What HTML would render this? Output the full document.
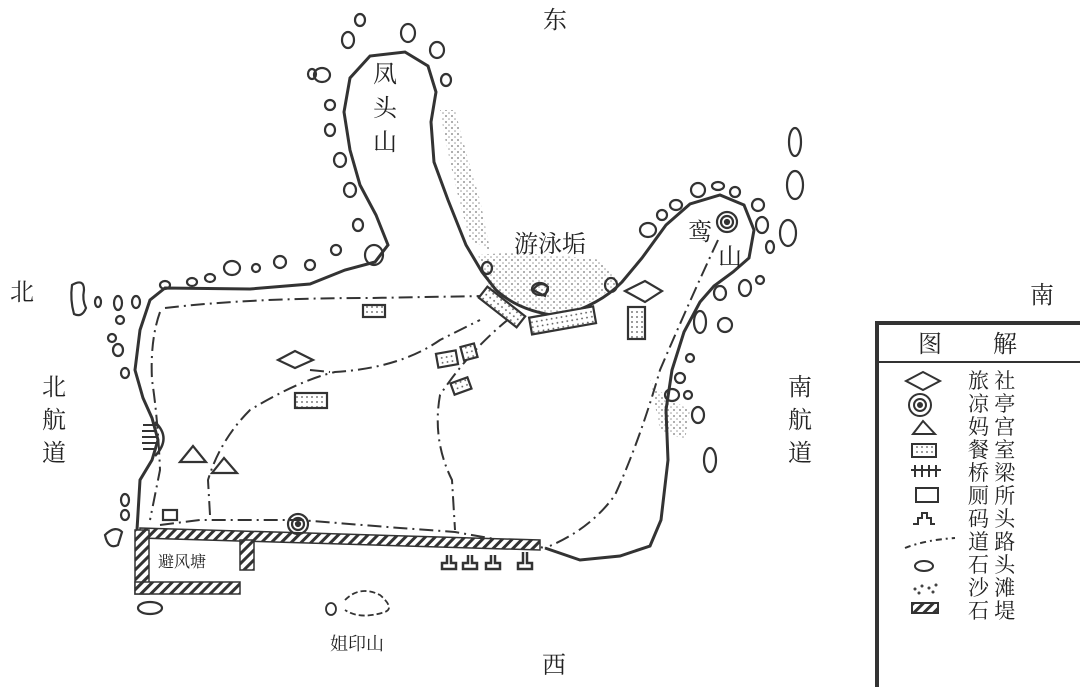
<!DOCTYPE html>
<html><head><meta charset="utf-8"><style>
html,body{margin:0;padding:0;background:#fff;}
svg{display:block}
text{font-family:"Liberation Serif","Noto Serif CJK SC","Noto Sans CJK SC",serif;fill:#222}
</style></head><body>
<svg width="1080" height="687" viewBox="0 0 1080 687" xmlns="http://www.w3.org/2000/svg">
<defs>
<pattern id="h" width="7" height="7" patternUnits="userSpaceOnUse" patternTransform="rotate(45)">
<rect width="7" height="7" fill="#fff"/><rect width="3" height="7" fill="#333"/></pattern>
<pattern id="d" width="5" height="5" patternUnits="userSpaceOnUse">
<rect width="5" height="5" fill="#fff"/><circle cx="2" cy="2" r="0.9" fill="#555"/></pattern>
<pattern id="s" width="6" height="6" patternUnits="userSpaceOnUse">
<circle cx="2" cy="2" r="0.9" fill="#777"/><circle cx="5" cy="5" r="0.8" fill="#999"/></pattern>
</defs>
<g fill="none" stroke="#333">
<!-- sand areas -->
<path d="M478,255 Q520,250 600,260 L620,282 Q600,300 560,315 Q520,312 490,288 Z" fill="url(#s)" stroke="none"/>
<path d="M440,110 Q450,170 470,240 L490,250 L480,200 Q465,150 455,110 Z" fill="url(#s)" stroke="none"/>
<path d="M650,380 Q660,395 690,410 L685,440 L660,430 Z" fill="url(#s)" stroke="none"/>
<!-- coastline -->
<path stroke-width="3" d="M137,530 L140,480 L152,460 L158,440 L152,418 L143,398 L135,370 L140,330 L150,300 L165,288 L250,289 L310,284 L345,270 L375,262 L388,245 L376,215 L360,185 L350,150 L344,112 L350,78 L370,56 L405,52 L428,66 L436,92 L431,122 L434,162 L448,200 L466,245 L482,272 L496,290 Q520,312 560,316 Q600,305 622,282 L642,258 L666,225 L690,204 L720,195 L744,205 L754,230 L749,258 L733,272 L714,286 L700,302 L684,332 L672,370 L666,410 L668,460 L661,520 L650,546 L620,556 L580,560 L545,548"/>
<!-- rocks -->
<g stroke-width="2.2">
<ellipse cx="348" cy="40" rx="6" ry="8"/><ellipse cx="360" cy="20" rx="5" ry="6"/><ellipse cx="408" cy="33" rx="7" ry="9"/><ellipse cx="437" cy="50" rx="7" ry="8"/><ellipse cx="322" cy="75" rx="8" ry="7"/><ellipse cx="312" cy="74" rx="4" ry="5"/><ellipse cx="446" cy="80" rx="5" ry="6"/><ellipse cx="330" cy="105" rx="5" ry="5"/><ellipse cx="330" cy="130" rx="5" ry="6"/><ellipse cx="340" cy="160" rx="6" ry="7"/><ellipse cx="350" cy="190" rx="6" ry="7"/><ellipse cx="358" cy="225" rx="5" ry="6"/><ellipse cx="374" cy="255" rx="9" ry="10"/><ellipse cx="336" cy="250" rx="5" ry="5"/><ellipse cx="310" cy="265" rx="5" ry="5"/><ellipse cx="280" cy="262" rx="6" ry="6"/><ellipse cx="256" cy="268" rx="4" ry="4"/><ellipse cx="232" cy="268" rx="8" ry="7"/><ellipse cx="210" cy="278" rx="5" ry="4"/><ellipse cx="192" cy="282" rx="5" ry="4"/><ellipse cx="165" cy="285" rx="5" ry="4"/>
<path d="M72,285 Q84,278 84,290 Q82,300 86,308 Q82,318 74,314 Q70,300 72,285Z"/><ellipse cx="98" cy="302" rx="3" ry="5"/><ellipse cx="118" cy="303" rx="4" ry="7"/><ellipse cx="136" cy="302" rx="4" ry="6"/><ellipse cx="120" cy="320" rx="4" ry="4"/><ellipse cx="112" cy="338" rx="4" ry="4"/><ellipse cx="118" cy="350" rx="5" ry="6"/><ellipse cx="125" cy="373" rx="4" ry="5"/>
<ellipse cx="125" cy="500" rx="4" ry="6"/><ellipse cx="125" cy="515" rx="4" ry="5"/><path d="M105,535 Q115,525 122,532 L118,545 Q108,550 105,535Z"/><ellipse cx="150" cy="608" rx="12" ry="6"/>
<ellipse cx="648" cy="230" rx="8" ry="7"/><ellipse cx="662" cy="215" rx="5" ry="5"/><ellipse cx="676" cy="205" rx="6" ry="5"/><ellipse cx="698" cy="190" rx="7" ry="7"/><ellipse cx="718" cy="186" rx="6" ry="4"/><ellipse cx="735" cy="192" rx="5" ry="5"/><ellipse cx="758" cy="205" rx="6" ry="6"/><ellipse cx="762" cy="225" rx="6" ry="8"/><ellipse cx="770" cy="247" rx="4" ry="6"/><ellipse cx="788" cy="233" rx="8" ry="13"/><ellipse cx="795" cy="185" rx="8" ry="14"/><ellipse cx="795" cy="142" rx="6" ry="14"/><ellipse cx="760" cy="280" rx="4" ry="4"/><ellipse cx="745" cy="288" rx="6" ry="8"/><ellipse cx="720" cy="293" rx="6" ry="7"/><ellipse cx="725" cy="325" rx="7" ry="7"/><ellipse cx="700" cy="322" rx="6" ry="11"/><ellipse cx="690" cy="358" rx="4" ry="4"/><ellipse cx="680" cy="378" rx="5" ry="5"/><ellipse cx="672" cy="395" rx="7" ry="6"/><ellipse cx="688" cy="395" rx="4" ry="4"/><ellipse cx="698" cy="415" rx="6" ry="8"/><ellipse cx="710" cy="460" rx="6" ry="12"/><ellipse cx="611" cy="285" rx="6" ry="7"/><ellipse cx="540" cy="289" rx="8" ry="6"/><ellipse cx="487" cy="268" rx="5" ry="6"/>
</g>
<!-- roads -->
<g stroke-width="2" stroke-dasharray="14,5,2,5">
<path d="M165,308 Q250,298 370,298 L485,296"/>
<path d="M160,312 Q150,340 152,380 Q158,420 160,470 L150,520"/>
<path d="M510,318 Q470,350 440,395 Q432,440 452,480 L455,530"/>
<path d="M210,515 L208,480 Q220,440 250,410 Q300,380 335,372 Q400,368 440,340 L480,320"/>
<path d="M310,370 L330,372"/>
<path d="M718,240 Q690,300 660,370 Q640,440 615,495 Q590,530 545,548"/>
<path d="M160,525 L200,520 L300,520 L400,528 L455,532 L545,548"/>
</g>
<!-- breakwater -->
<path d="M140,528 L540,540 L540,550 L140,538 Z" fill="url(#h)" stroke-width="1.5"/>
<rect x="135" y="530" width="14" height="64" fill="url(#h)" stroke-width="1.5"/>
<rect x="135" y="582" width="105" height="12" fill="url(#h)" stroke-width="1.5"/>
<rect x="240" y="540" width="14" height="30" fill="url(#h)" stroke-width="1.5"/>
<path d="M345,600 Q360,585 380,595 Q395,608 385,612 Q360,620 345,610" stroke-dasharray="6,3" stroke-width="1.8"/>
<ellipse cx="331" cy="609" rx="5" ry="6" stroke-width="1.8"/>
<!-- piers -->
<g stroke-width="2.5"><path d="M447,555 v8 h-5 v6 h14 v-6 h-5 v-8"/><path d="M468,555 v8 h-5 v6 h14 v-6 h-5 v-8"/><path d="M491,555 v8 h-5 v6 h14 v-6 h-5 v-8"/><path d="M523,552 v11 h-5 v6 h14 v-6 h-5 v-11"/></g>
<!-- bridge -->
<path d="M155,422 Q172,438 155,456" stroke-width="2.5"/>
<g stroke-width="2"><path d="M143,425h14M142,431h14M142,437h14M142,443h14M143,449h13"/></g>
<!-- buildings -->
<g stroke-width="2.2" fill="url(#d)">
<rect x="363" y="305" width="22" height="12"/><rect x="295" y="393" width="32" height="15"/>
<rect x="437" y="352" width="20" height="14" transform="rotate(-10 447 359)"/><rect x="462" y="345" width="14" height="14" transform="rotate(-15 469 352)"/><rect x="452" y="380" width="18" height="12" transform="rotate(-20 461 386)"/>
<rect x="478" y="300" width="48" height="14" transform="rotate(38 502 307)"/><rect x="530" y="312" width="65" height="17" transform="rotate(-10 562 320)"/><rect x="628" y="307" width="17" height="32"/>
</g>
<g stroke-width="2.2"><path d="M278,360 L295,351 L313,360 L295,368Z"/><path d="M625,291 L645,281 L662,291 L645,302Z"/>
<path d="M180,462 L193,446 L206,462Z"/><path d="M212,473 L224,458 L237,473Z"/>
<rect x="163" y="510" width="14" height="10"/>
<circle cx="298" cy="524" r="10"/><circle cx="298" cy="524" r="6"/><circle cx="298" cy="524" r="2" fill="#333"/>
<circle cx="727" cy="222" r="10"/><circle cx="727" cy="222" r="6"/><circle cx="727" cy="222" r="2" fill="#333"/>
<path d="M533,290 Q540,280 548,287 L545,296 Z"/>
</g>
<!-- legend -->
<path d="M877,687 V323 H1080" stroke-width="4"/><path d="M877,362 H1080" stroke-width="2"/>
<g stroke-width="2">
<path d="M906,381 L923,372 L940,381 L923,390Z"/>
<circle cx="920" cy="405" r="11"/><circle cx="920" cy="405" r="6"/><circle cx="920" cy="405" r="2" fill="#333"/>
<path d="M913,434 L923,421 L935,434Z"/>
<rect x="912" y="444" width="24" height="13" fill="url(#d)"/>
<path d="M911,470h30M915,465v12M922,465v12M929,465v12M936,465v12"/>
<rect x="916" y="488" width="22" height="14"/>
<path d="M913,524 h5 v-6 h4 v-5 h5 v5 h4 v6 h4"/>
<path d="M905,548 Q925,540 955,538" stroke-dasharray="6,4,2,4"/>
<ellipse cx="924" cy="566" rx="9" ry="5"/>
<rect x="912" y="603" width="26" height="10" fill="url(#h)"/>
</g>
<g fill="#888"><circle cx="915" cy="589" r="1"/><circle cx="922" cy="586" r="1"/><circle cx="929" cy="588" r="1"/><circle cx="936" cy="585" r="1"/><circle cx="919" cy="593" r="1"/><circle cx="933" cy="592" r="1"/></g>
</g>
<g font-size="24">
<text x="543" y="28">东</text><text x="542" y="673">西</text><text x="10" y="300">北</text><text x="1030" y="303">南</text>
<text x="42" y="395">北</text><text x="42" y="428">航</text><text x="42" y="461">道</text>
<text x="788" y="395">南</text><text x="788" y="428">航</text><text x="788" y="461">道</text>
<text x="373" y="82">凤</text><text x="373" y="116">头</text><text x="373" y="150">山</text>
<text x="514" y="252">游泳垢</text><text x="688" y="240">鸾</text><text x="718" y="265">山</text>
<text x="918" y="352">图</text><text x="993" y="352">解</text>
</g>
<g font-size="21">
<text x="968" y="388">旅 社</text><text x="968" y="411">凉 亭</text><text x="968" y="434">妈 宫</text><text x="968" y="457">餐 室</text><text x="968" y="480">桥 梁</text><text x="968" y="503">厕 所</text><text x="968" y="526">码 头</text><text x="968" y="549">道 路</text><text x="968" y="572">石 头</text><text x="968" y="595">沙 滩</text><text x="968" y="618">石 堤</text>
</g>
<text x="158" y="567" font-size="16" fill="#555">避风塘</text>
<text x="330" y="650" font-size="18" fill="#999">姐印山</text>
</svg>
</body></html>
